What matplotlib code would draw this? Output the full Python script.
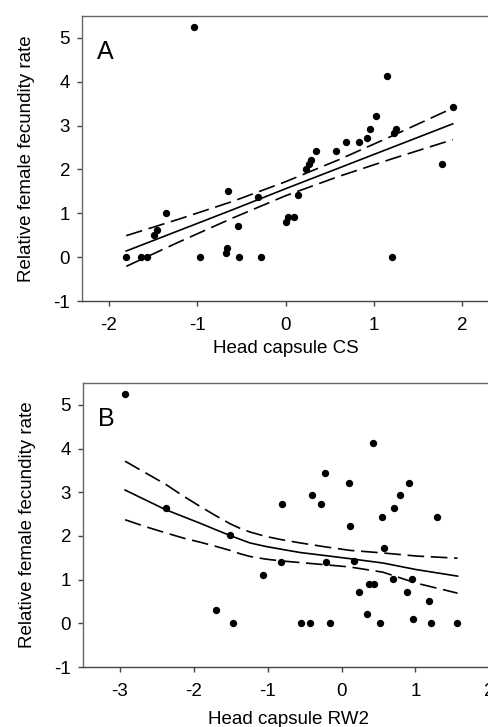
import matplotlib
matplotlib.use("Agg")
import matplotlib.pyplot as plt

plt.rcParams['font.family'] = ['Liberation Sans', 'DejaVu Sans']

# ---- Panel A data: Head capsule CS vs relative female fecundity rate ----
a_x = [-1.80, -1.63, -1.57, -1.49, -1.45, -1.35, -1.03, -0.97, -0.67, -0.66,
       -0.65, -0.54, -0.52, -0.31, -0.28, 0.00, 0.03, 0.10, 0.14, 0.23,
       0.27, 0.29, 0.35, 0.57, 0.68, 0.83, 0.92, 0.95, 1.02, 1.15,
       1.20, 1.23, 1.25, 1.77, 1.89]
a_y = [0.00, 0.00, 0.00, 0.51, 0.61, 1.01, 5.24, 0.00, 0.10, 0.22,
       1.52, 0.71, 0.00, 1.37, 0.00, 0.81, 0.91, 0.91, 1.42, 2.02,
       2.13, 2.22, 2.42, 2.42, 2.62, 2.62, 2.72, 2.92, 3.23, 4.13,
       0.00, 2.84, 2.92, 2.12, 3.42]
# fitted line and confidence band
a_fit_x = [-1.80, -1.20, -0.60, 0.00, 0.60, 1.20, 1.89]
a_fit_y = [0.14, 0.61, 1.08, 1.56, 2.03, 2.50, 3.04]
a_upper = [0.49, 0.87, 1.27, 1.72, 2.22, 2.76, 3.40]
a_lower = [-0.21, 0.35, 0.89, 1.40, 1.84, 2.24, 2.68]

# ---- Panel B data: Head capsule RW2 vs relative female fecundity rate ----
b_x = [-2.93, -2.38, -1.70, -1.51, -1.47, -1.06, -0.81, -0.82, -0.55, -0.43,
       -0.40, -0.28, -0.22, -0.21, -0.15, 0.10, 0.11, 0.17, 0.23, 0.35,
       0.37, 0.44, 0.43, 0.52, 0.55, 0.58, 0.69, 0.71, 0.79, 0.88,
       0.91, 0.96, 0.97, 1.19, 1.21, 1.29, 1.56]
b_y = [5.24, 2.63, 0.30, 2.02, 0.00, 1.11, 2.73, 1.41, 0.00, 0.00,
       2.93, 2.73, 3.43, 1.41, 0.00, 3.22, 2.23, 1.43, 0.71, 0.21,
       0.91, 0.91, 4.13, 0.00, 2.43, 1.72, 1.01, 2.63, 2.93, 0.71,
       3.22, 1.01, 0.11, 0.51, 0.00, 2.43, 0.00]
b_fit_x = [-2.93, -2.65, -2.38, -2.14, -1.90, -1.70, -1.51, -1.37, -1.24, -1.03,
           -0.83, -0.56, -0.22, 0.11, 0.56, 1.01, 1.57]
b_fit_y = [3.05, 2.82, 2.60, 2.44, 2.28, 2.14, 2.01, 1.92, 1.84, 1.76,
           1.70, 1.62, 1.55, 1.48, 1.38, 1.23, 1.08]
b_upper = [3.71, 3.44, 3.18, 2.91, 2.66, 2.46, 2.28, 2.17, 2.09, 1.99,
           1.92, 1.84, 1.75, 1.67, 1.61, 1.54, 1.49]
b_lower = [2.37, 2.21, 2.07, 1.95, 1.85, 1.76, 1.67, 1.59, 1.53, 1.47,
           1.43, 1.39, 1.34, 1.29, 1.17, 0.92, 0.69]

y_ticks = [-1, 0, 1, 2, 3, 4, 5]
a_xticks = [-2, -1, 0, 1, 2]
b_xticks = [-3, -2, -1, 0, 1, 2]

W, H = 488, 727
fig = plt.figure(figsize=(W / 100, H / 100), dpi=100)
FS = 13.5


def make_axes(l, r, t, b):
    return fig.add_axes([l / W, 1 - b / H, (r - l) / W, (b - t) / H])


def style(ax, xlim, xticks, xlabel, letter, xlabelpad):
    ax.set_xlim(*xlim)
    ax.set_ylim(-1, 5.5)
    ax.set_xticks(xticks)
    ax.set_yticks(y_ticks)
    ax.set_xticklabels([str(v) for v in xticks])
    ax.set_yticklabels([str(v) for v in y_ticks])
    for s in ['left', 'top', 'right']:
        ax.spines[s].set_color('#666666')
        ax.spines[s].set_linewidth(1.0)
    ax.spines['bottom'].set_color('#444444')
    ax.spines['bottom'].set_linewidth(1.0)
    ax.tick_params(axis='both', direction='out', length=3.5, width=1.0,
                   color='#444444', labelsize=FS)
    ax.tick_params(axis='x', pad=8)
    ax.tick_params(axis='y', pad=5)
    ax.set_xlabel(xlabel, fontsize=FS, labelpad=xlabelpad)
    ax.set_ylabel('Relative female fecundity rate', fontsize=FS, labelpad=13)
    ax.text(0.037, 0.915, letter, transform=ax.transAxes, fontsize=18,
            ha='left', va='top')


dash = (0, (10, 4))

axA = make_axes(82, 489, 16, 301)
axA.scatter(a_x, a_y, s=28, color='black', zorder=3, linewidths=0)
axA.plot(a_fit_x, a_fit_y, color='black', lw=1.2)
axA.plot(a_fit_x, a_upper, color='black', lw=1.2, linestyle=dash)
axA.plot(a_fit_x, a_lower, color='black', lw=1.2, linestyle=dash)
style(axA, (-2.3, 2.3), a_xticks, 'Head capsule CS', 'A', 4.5)

axB = make_axes(83, 493, 383, 667)
axB.scatter(b_x, b_y, s=28, color='black', zorder=3, linewidths=0)
axB.plot(b_fit_x, b_fit_y, color='black', lw=1.2)
axB.plot(b_fit_x, b_upper, color='black', lw=1.2, linestyle=dash)
axB.plot(b_fit_x, b_lower, color='black', lw=1.2, linestyle=dash)
style(axB, (-3.5, 2.05), b_xticks, 'Head capsule RW2', 'B', 8)

fig.savefig('out.png', dpi=100)
